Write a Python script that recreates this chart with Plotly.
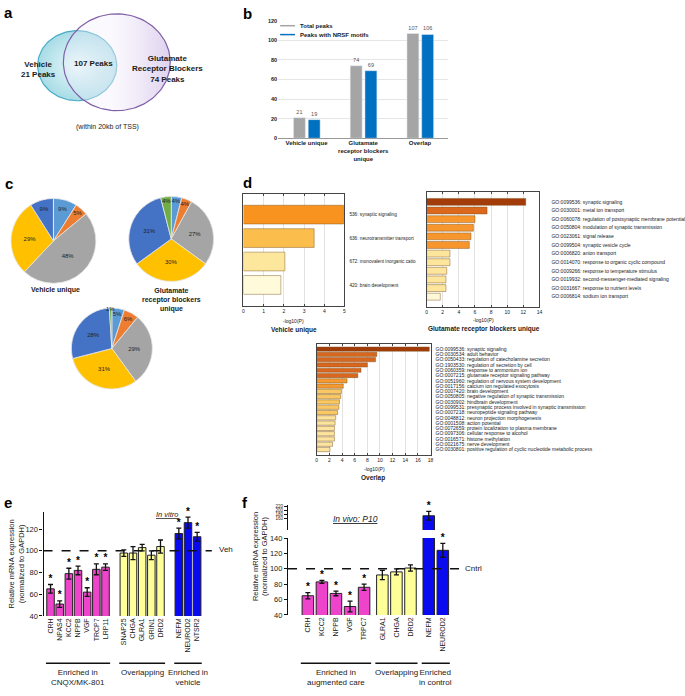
import math

import plotly.graph_objects as go

W, H = 685, 696
FONT = "Arial, Liberation Sans, sans-serif"
INK = "#1a1a1a"

# ---------------- data ----------------
# a: Venn counts
venn_vehicle = 21
venn_overlap = 107
venn_glut = 74

# b: peaks
b_groups = ["Vehicle unique", "Glutamate<br>receptor blockers<br>unique", "Overlap"]
b_total = [21, 74, 107]
b_nrsf = [19, 69, 106]

# c: pie shares (light blue, orange, gray, yellow, dark blue, green)
pie_cats = ["c1", "c2", "c3", "c4", "c5", "c6"]
pie_vehicle = [9, 5, 48, 29, 9, 0]
pie_glut = [4, 4, 27, 30, 31, 4]
pie_overlap = [5, 6, 29, 31, 28, 1]

# d: GO enrichment, -log10(P)
d1_terms = ["536: synaptic signaling", "636: neurotransmitter transport",
            "672: monovalent inorganic catio", "420: brain development"]
d1_vals = [4.95, 3.5, 2.05, 1.85]

d2_terms = ["GO:0099536: synaptic signaling", "GO:0030001: metal ion transport",
            "GO:0060078: regulation of postsynaptic membrane potential",
            "GO:0050804: modulation of synaptic transmission", "GO:0023061: signal release",
            "GO:0099504: synaptic vesicle cycle", "GO:0006820: anion transport",
            "GO:0014070: response to organic cyclic compound",
            "GO:0009266: response to temperature stimulus",
            "GO:0019932: second-messenger-mediated signaling",
            "GO:0031667: response to nutrient levels", "GO:0006814: sodium ion transport"]
d2_vals = [12.3, 7.5, 6.0, 5.8, 5.5, 5.3, 2.9, 2.9, 2.5, 2.4, 2.4, 1.7]

d3_terms = ["GO:0099536: synaptic signaling", "GO:0030534: adult behavior",
            "GO:0050433: regulation of catecholamine secretion",
            "GO:1903530: regulation of secretion by cell", "GO:0060359: response to ammonium ion",
            "GO:0007215: glutamate receptor signaling pathway",
            "GO:0051960: regulation of nervous system development",
            "GO:0017156: calcium ion regulated exocytosis", "GO:0007420: brain development",
            "GO:0050805: negative regulation of synaptic transmission",
            "GO:0030902: hindbrain development",
            "GO:0099531: presynaptic process involved in synaptic transmission",
            "GO:0007218: neuropeptide signaling pathway",
            "GO:0048812: neuron projection morphogenesis", "GO:0001508: action potential",
            "GO:0072659: protein localization to plasma membrane",
            "GO:0097306: cellular response to alcohol", "GO:0016571: histone methylation",
            "GO:0021675: nerve development",
            "GO:0030801: positive regulation of cyclic nucleotide metabolic process"]
d3_vals = [17.8, 9.5, 9.3, 8.0, 7.0, 6.5, 4.8, 4.2, 3.9, 3.8,
           3.6, 3.5, 3.3, 3.0, 2.9, 2.8, 2.8, 2.8, 2.5, 2.1]

# e: in vitro qPCR
e_genes = [["CRH", "NPAS4", "KCC2", "NPPB", "VGF", "TRCP7", "LRP11"],
           ["SNAP25", "CHGA", "GLRA1", "GRIN1", "DRD2"],
           ["NEFM", "NEUROD2", "NTSR2"]]
e_vals = [[65, 51, 79, 82, 62, 83, 85], [98, 98, 103, 96, 104], [116, 126, 113]]
e_errs = [[4, 3, 5, 4, 4, 5, 3], [3, 6, 3, 4, 6], [5, 5, 4]]
e_sig = [True, False, True]
e_group_names = ["Enriched in<br>CNQX/MK-801", "Overlapping", "Enriched in<br>vehicle"]

# f: in vivo P10 qPCR
f_genes = [["CRH", "KCC2", "NPPB", "VGF", "TRPC7"], ["GLRA1", "CHGA", "DRD2"],
           ["NEFM", "NEUROD2"]]
f_vals = [[65, 83, 68, 51, 76], [92, 96, 101], [172, 124]]
f_errs = [[4, 2, 3, 7, 4], [6, 4, 4], [22, 9]]
f_sig = [True, False, True]
f_group_names = ["Enriched in<br>augmented care", "Overlapping", "Enriched<br>in control"]

GROUP_COLORS = ["#EE44CC", "#FFFF99", "#0A0AF0"]
PIE_COLORS = ["#5B9BD5", "#ED7D31", "#A5A5A5", "#FFC000", "#4472C4", "#70AD47"]


def xs(a, b):
    return [a / W, b / W]


def ys(top, bottom):
    return [1 - bottom / H, 1 - top / H]


def note(text, x, y, size=7, weight="normal", xanchor="center", yanchor="middle",
         angle=0, color=INK):
    return dict(text=text, x=x / W, y=1 - y / H, xref="paper", yref="paper",
                showarrow=False, xanchor=xanchor, yanchor=yanchor, textangle=angle,
                font=dict(size=size, color=color, weight=weight, family=FONT))


def positions(groups, gap):
    pos, k = [], 0.0
    for g in groups:
        for _ in g:
            pos.append(k)
            k += 1
        k += gap
    return pos


fig = go.Figure()
shapes = []
annotations = []

# ---------------- a: Venn ----------------
# ellipse outlines on a hidden pixel-scaled axis, with gradient fills
steps = [2 * math.pi * i / 120 for i in range(121)]
venn_sets = [
    ((77, 62.5, 40, 35.5), "#4BACC6",
     dict(type="radial", colorscale=[[0, "rgba(228,246,249,0.75)"], [1, "rgba(138,208,222,0.75)"]])),
    ((117, 59, 54, 49), "#8060A8",
     dict(type="horizontal", colorscale=[[0, "rgba(235,235,250,0.25)"], [0.45, "rgba(246,242,251,0.45)"],
                                          [1, "rgba(208,190,232,0.7)"]])),
]
for (cx, cy, rx, ry), edge, grad in venn_sets:
    fig.add_trace(go.Scatter(x=[cx + rx * math.cos(t) for t in steps],
                             y=[cy + ry * math.sin(t) for t in steps],
                             mode="lines", fill="toself", fillgradient=grad,
                             line=dict(color=edge, width=1.2), xaxis="x2", yaxis="y2",
                             showlegend=False, hoverinfo="skip"))
annotations += [
    note(f"Vehicle<br>{venn_vehicle} Peaks", 38, 66, size=8, weight="bold"),
    note(f"{venn_overlap} Peaks", 93, 60, size=8, weight="bold"),
    note(f"Glutamate<br>Receptor Blockers<br>{venn_glut} Peaks", 168, 66, size=8, weight="bold"),
    note("(within 20kb of TSS)", 108, 125, size=7),
]

# ---------------- b: peaks bars ----------------
b_x = list(range(len(b_groups)))
for vals, col, off in [(b_total, "#A5A5A5", -0.23), (b_nrsf, "#0070C0", 0.03)]:
    fig.add_trace(go.Bar(x=b_x, y=vals, width=0.21, offset=off,
                         marker=dict(color=col), text=vals, textposition="outside",
                         textfont=dict(size=5.5, color="#555"), cliponaxis=False,
                         xaxis="x", yaxis="y", showlegend=False, hoverinfo="skip"))
for yy, col, lab in [(22, "#A5A5A5", "Total peaks"), (31, "#0070C0", "Peaks with NRSF motifs")]:
    shapes.append(dict(type="line", xref="paper", yref="paper", x0=282 / W, x1=297 / W,
                       y0=1 - yy / H, y1=1 - yy / H, line=dict(color=col, width=1.5)))
    annotations.append(note(lab, 300, yy, size=6, weight="bold", xanchor="left"))

# ---------------- c: pies ----------------
pie_domains = [(xs(10, 96), ys(197, 283)), (xs(129, 215), ys(195, 281)),
               (xs(70, 154), ys(308, 390))]
for vals, (dx, dy) in zip([pie_vehicle, pie_glut, pie_overlap], pie_domains):
    fig.add_trace(go.Pie(values=vals, labels=pie_cats,
                         text=[f"{v}%" if v else "" for v in vals], textinfo="text",
                         sort=False, direction="clockwise", rotation=0,
                         marker=dict(colors=PIE_COLORS, line=dict(color="#e6e6e6", width=0.8)),
                         textposition="inside", insidetextorientation="horizontal",
                         textfont=dict(size=6, color="#222"),
                         domain=dict(x=dx, y=dy), showlegend=False, hoverinfo="skip"))
annotations += [
    note("Vehicle unique", 55, 290, size=7, weight="bold"),
    note("Glutamate<br>receptor blockers<br>unique", 172, 300, size=7, weight="bold"),
]

# ---------------- d: GO bars ----------------
d1_colors = ["#F7931E", "#FBBE4C", "#FDE79C", "#FFFBDA"]
d2_colors = ["#A33C08", "#DC681E"] + ["#F7962C"] * 4 + ["#FDE59C"] * 5 + ["#FFF8D8"]
d3_colors = ["#A33C08"] + ["#D8661E"] * 5 + ["#F59A30"] * 2 + ["#F9C862"] * 5 + ["#FCE39E"] * 7

d_specs = [
    ("x3", "y3", d1_terms, d1_vals, d1_colors, xs(245, 347), ys(192, 306), 5, 1,
     [len(d1_terms) - 0.1, -0.9], 4.7, 3),
    ("x4", "y4", d2_terms, d2_vals, d2_colors, xs(430, 544), ys(190, 307), 14, 2,
     [len(d2_terms) + 0.2, -1.2], 5, 10),
    ("x5", "y5", d3_terms, d3_vals, d3_colors, xs(319, 434), ys(344, 457), 18, 2,
     [len(d3_terms) + 0.05, -1.05], 5, 3),
]
axis_layout = {}
for xa, ya, terms, vals, cols, dx, dy, xmax, dt, yr, lsize, stand in d_specs:
    fig.add_trace(go.Bar(y=list(range(len(terms))), x=vals, orientation="h", width=0.8,
                         marker=dict(color=cols, line=dict(color="rgba(120,80,30,0.55)", width=0.8)),
                         xaxis=xa, yaxis=ya, showlegend=False, hoverinfo="skip"))
    axis_layout["xaxis" + xa[1:]] = dict(
        domain=dx, anchor=ya, range=[0, xmax], dtick=dt, showgrid=True, gridcolor="#e2e2e2",
        showline=True, mirror="ticks", linecolor="#444", linewidth=1, ticks="inside",
        ticklen=2, tickcolor="#444", tickfont=dict(size=5, color=INK), zeroline=False)
    axis_layout["yaxis" + ya[1:]] = dict(
        domain=dy, anchor=xa, range=yr, tickvals=list(range(len(terms))), ticktext=terms,
        side="right", showline=True, mirror=True, linecolor="#444", linewidth=1, ticks="",
        ticklabelstandoff=stand, tickfont=dict(size=lsize, color=INK), showgrid=False,
        zeroline=False)
annotations += [
    note("-log10(P)", 296, 321, size=5),
    note("Vehicle unique", 296, 330, size=6.5, weight="bold"),
    note("-log10(P)", 487, 320, size=5),
    note("Glutamate receptor blockers unique", 488, 329, size=6.5, weight="bold"),
    note("-log10(P)", 377, 471, size=5),
    note("Overlap", 376, 480, size=6.5, weight="bold"),
]


# ---------------- e / f: qPCR ----------------
def star_trace(x, y, xa, ya):
    return go.Scatter(x=x, y=y, mode="text", text="*", textposition="top center",
                      cliponaxis=False, textfont=dict(size=10, color="#000", weight="bold"),
                      xaxis=xa, yaxis=ya, showlegend=False, hoverinfo="skip")


def qpcr(genes, vals, errs, sig, gap, xa, ya, ya_top=None, brk=None):
    pos = positions(genes, gap)
    names = [g for grp in genes for g in grp]
    v = [x for grp in vals for x in grp]
    e = [x for grp in errs for x in grp]
    cols = [GROUP_COLORS[i] for i, grp in enumerate(genes) for _ in grp]
    stars = [sig[i] for i, grp in enumerate(genes) for _ in grp]
    fig.add_trace(go.Bar(x=pos, y=v, xaxis=xa, yaxis=ya, width=0.82,
                         marker=dict(color=cols, line=dict(color="#222", width=1)),
                         error_y=dict(type="data", array=e, color="#111", thickness=1.3, width=2.5),
                         showlegend=False, hoverinfo="skip"))
    low = [i for i in range(len(v)) if stars[i] and (brk is None or v[i] <= brk)]
    fig.add_trace(star_trace([pos[i] for i in low], [v[i] + e[i] for i in low], xa, ya))
    if ya_top is not None:
        hi = [i for i in range(len(v)) if v[i] > brk]
        fig.add_trace(go.Bar(x=[pos[i] for i in hi], y=[v[i] for i in hi],
                             xaxis=xa, yaxis=ya_top, width=0.82,
                             marker=dict(color=[cols[i] for i in hi],
                                         line=dict(color="#222", width=1)),
                             error_y=dict(type="data", array=[e[i] for i in hi], color="#111",
                                          thickness=1.3, width=2.5),
                             showlegend=False, hoverinfo="skip"))
        top = [i for i in hi if stars[i]]
        fig.add_trace(star_trace([pos[i] for i in top], [v[i] + e[i] for i in top], xa, ya_top))
    return pos, names


e_pos, e_names = qpcr(e_genes, e_vals, e_errs, e_sig, 1.0, "x6", "y6")
f_pos, f_names = qpcr(f_genes, f_vals, f_errs, f_sig, 0.3, "x7", "y7", "y8", 140)

axis_layout.update(
    xaxis6=dict(domain=xs(43, 213), anchor="y6", range=[-0.76, 17.6], tickvals=e_pos,
                ticktext=e_names, tickangle=-90, tickfont=dict(size=7, color=INK),
                showline=False, ticks="", showgrid=False, zeroline=False),
    yaxis6=dict(domain=ys(515, 620), anchor="x6", range=[40, 135.5],
                tickvals=[40, 60, 80, 100, 120], showline=True, linecolor="#111", linewidth=1.2,
                ticks="outside", ticklen=3, tickcolor="#111", tickfont=dict(size=7.5, color=INK),
                showgrid=False, zeroline=False),
    xaxis7=dict(domain=xs(290, 463), anchor="y7", range=[-1.41, 10.77], tickvals=f_pos,
                ticktext=f_names, tickangle=-90, tickfont=dict(size=7, color=INK),
                showline=False, ticks="", showgrid=False, zeroline=False),
    yaxis7=dict(domain=ys(541, 619), anchor="x7", range=[40, 140],
                tickvals=[40, 60, 80, 100, 120, 140], showline=True, linecolor="#111",
                linewidth=1.2, ticks="outside", ticklen=3, tickcolor="#111",
                tickfont=dict(size=7.5, color=INK), showgrid=False, zeroline=False),
    yaxis8=dict(domain=ys(508, 533), anchor="x7", range=[100, 224],
                tickvals=[160, 180, 200, 220], showline=True, linecolor="#111", linewidth=1.2,
                ticks="outside", ticklen=3, tickcolor="#111", tickfont=dict(size=4.5, color=INK),
                showgrid=False, zeroline=False),
)

for xa, ya in [("x6", "y6"), ("x7", "y7")]:
    shapes.append(dict(type="line", xref=xa + " domain", yref=ya, x0=0, x1=1, y0=100, y1=100,
                       line=dict(color="#111", width=1.5, dash="dash"), layer="above"))
annotations += [
    note("Veh", 218, 553, size=8, xanchor="left"),
    note("Cntrl", 467, 572, size=8, xanchor="left"),
    note("<i><u>In vitro</u></i>", 168, 517, size=7.5),
    note("<i><u>In vivo: P10</u></i>", 358, 522, size=8.5),
    note("Relative mRNA expression<br>(normalized to GAPDH)", 16, 567, size=7.5, angle=-90),
    note("Relative mRNA expression<br>(normalized to GAPDH)", 262, 560, size=7.5, angle=-90),
]

for genes, pos, names, xa in [(e_genes, e_pos, e_group_names, "x6"),
                               (f_genes, f_pos, f_group_names, "x7")]:
    k = 0
    for grp, label in zip(genes, names):
        p0, p1 = pos[k], pos[k + len(grp) - 1]
        k += len(grp)
        shapes.append(dict(type="line", xref=xa, yref="paper", x0=p0 - 0.5, x1=p1 + 0.5,
                           y0=1 - 668 / H, y1=1 - 668 / H, line=dict(color="#111", width=1.5)))
        annotations.append(dict(text=label, x=(p0 + p1) / 2, xref=xa, y=1 - 671 / H,
                                yref="paper", yanchor="top", showarrow=False,
                                font=dict(size=8, color=INK, family=FONT)))

# panel letters
for letter, x, y in [("a", 8, 9), ("b", 249, 10), ("c", 8, 182), ("d", 249, 181),
                     ("e", 7, 505), ("f", 247, 505)]:
    annotations.append(note(letter, x, y, size=15, weight="bold", color="#000"))

fig.update_layout(
    width=W, height=H, margin=dict(l=0, r=0, t=0, b=0),
    paper_bgcolor="white", plot_bgcolor="white",
    font=dict(family=FONT, color=INK),
    barmode="overlay",
    uniformtext=dict(minsize=5.5, mode="show"),
    xaxis=dict(domain=xs(280, 452), anchor="y", range=[-0.5, 2.5], tickvals=b_x,
               ticktext=b_groups, tickfont=dict(size=6, color=INK, weight="bold"),
               showline=False, ticks="", showgrid=False, zeroline=False),
    yaxis=dict(domain=ys(17, 136), anchor="x", range=[0, 120], dtick=20,
               gridcolor="#e6e6e6", tickfont=dict(size=5.5, color=INK, weight="bold"),
               zeroline=True, zerolinecolor="#999", zerolinewidth=1),
    xaxis2=dict(domain=xs(0, 230), anchor="y2", range=[0, 230], visible=False),
    yaxis2=dict(domain=ys(0, 140), anchor="x2", range=[140, 0], visible=False),
    shapes=shapes,
    annotations=annotations,
    **axis_layout,
)

fig.write_html("out.html", config={"displayModeBar": False},
               post_script="document.body.style.margin='0';")
